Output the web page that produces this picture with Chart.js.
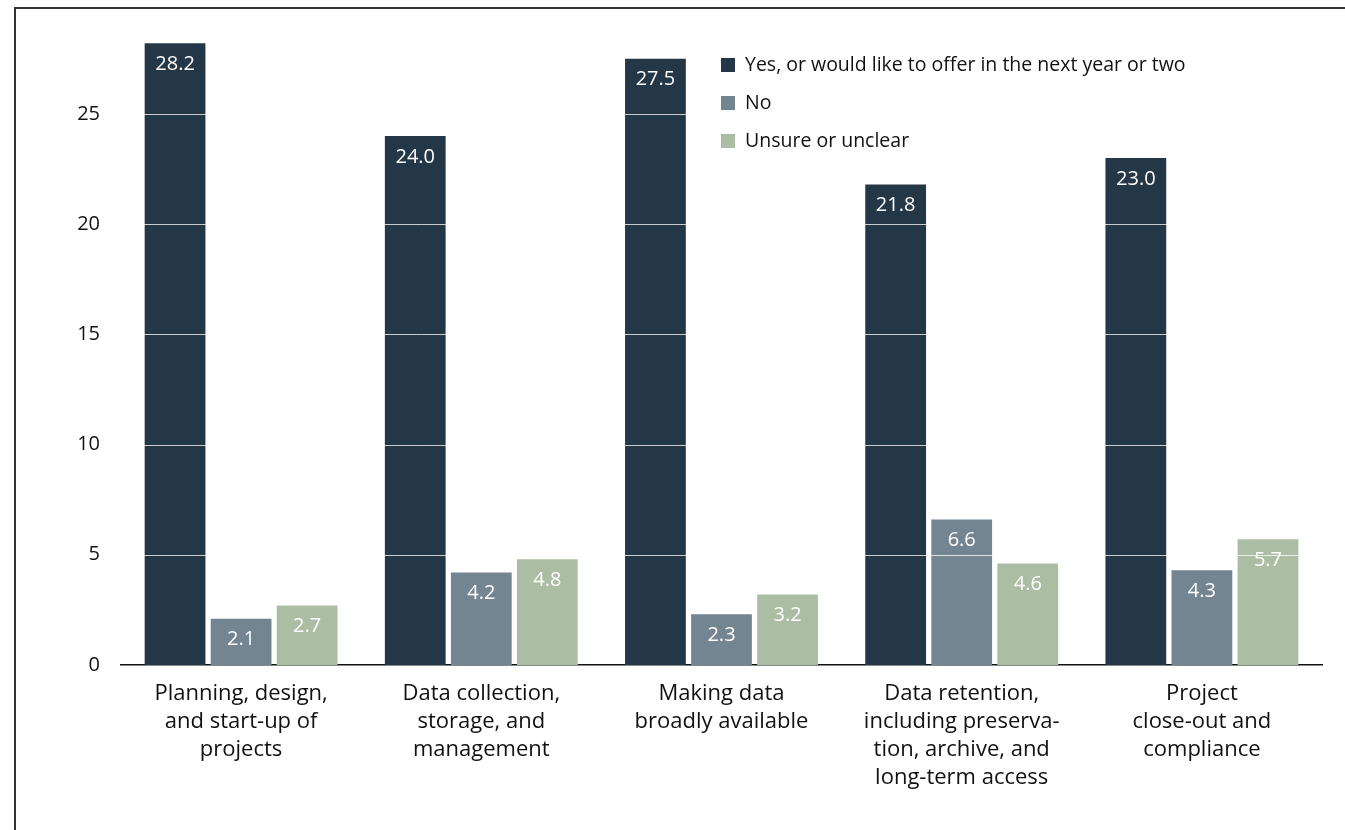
<!DOCTYPE html>
<html>
<head>
<meta charset="utf-8">
<script src="https://cdn.jsdelivr.net/npm/chart.js@4.4.0/dist/chart.umd.min.js"></script>
<style>
  html, body { margin: 0; padding: 0; background: #fff; }
  #frame { position: absolute; left: 14px; top: 7px; width: 1400px; height: 900px;
           border-top: 2px solid #333; border-left: 2px solid #333; }
  #wrap { position: absolute; left: 0; top: 0; width: 1345px; height: 830px; }
</style>
</head>
<body>
<div id="frame"></div>
<div id="wrap"><canvas id="myChart"></canvas></div>
<script>
var categories = [
    ['Planning, design,', 'and start-up of', 'projects'],
    ['Data collection,', 'storage, and', 'management'],
    ['Making data', 'broadly available'],
    ['Data retention,', 'including preserva-', 'tion, archive, and', 'long-term access'],
    ['Project', 'close-out and', 'compliance']
];
var seriesNames = ['Yes, or would like to offer in the next year or two', 'No', 'Unsure or unclear'];
var yesValues = [28.2, 24.0, 27.5, 21.8, 23.0];
var noValues = [2.1, 4.2, 2.3, 6.6, 4.3];
var unsureValues = [2.7, 4.8, 3.2, 4.6, 5.7];
var yTicks = [0, 5, 10, 15, 20, 25];
var colors = ['#243746', '#738591', '#abbea3'];

var fontFamily = '"Open Sans", Lato, sans-serif';

// white grid lines drawn on top of the bars
var gridOverBars = {
    id: 'gridOverBars',
    afterDatasetsDraw: function(chart) {
        var c = chart.ctx, area = chart.chartArea, y = chart.scales.y;
        c.save();
        c.strokeStyle = 'rgba(255,255,255,0.75)';
        c.lineWidth = 1;
        yTicks.forEach(function(v) {
            if (v === 0) return;
            var py = Math.round(y.getPixelForValue(v)) + 0.5;
            c.beginPath();
            c.moveTo(area.left, py);
            c.lineTo(area.right, py);
            c.stroke();
        });
        c.restore();
    }
};

// value labels inside the top of each bar
var barLabels = {
    id: 'barLabels',
    afterDatasetsDraw: function(chart) {
        var c = chart.ctx;
        c.save();
        c.fillStyle = '#ffffff';
        c.font = '20px ' + fontFamily;
        c.textAlign = 'center';
        c.textBaseline = 'middle';
        chart.data.datasets.forEach(function(ds, i) {
            chart.getDatasetMeta(i).data.forEach(function(bar, j) {
                c.fillText(ds.data[j].toFixed(1), bar.x, bar.y + 21);
            });
        });
        c.restore();
    }
};

// legend in the upper right of the plot
var sideLegend = {
    id: 'sideLegend',
    afterDraw: function(chart) {
        var c = chart.ctx;
        c.save();
        c.font = '19.5px ' + fontFamily;
        c.textBaseline = 'middle';
        c.textAlign = 'left';
        chart.data.datasets.forEach(function(ds, i) {
            var y = 65 + i * 38;
            c.fillStyle = ds.backgroundColor;
            c.fillRect(721, y - 7, 14, 14);
            c.fillStyle = '#111';
            c.fillText(ds.label, 745, y);
        });
        c.restore();
    }
};

var ctx = document.getElementById('myChart').getContext('2d');
var chart = new Chart(ctx, {
    type: 'bar',
    data: {
        labels: categories,
        datasets: [
            { label: seriesNames[0], data: yesValues, backgroundColor: colors[0] },
            { label: seriesNames[1], data: noValues, backgroundColor: colors[1] },
            { label: seriesNames[2], data: unsureValues, backgroundColor: colors[2] }
        ]
    },
    plugins: [gridOverBars, barLabels, sideLegend],
    options: {
        responsive: true,
        maintainAspectRatio: false,
        animation: false,
        layout: { padding: { top: 3, right: 23, left: 0, bottom: 0 } },
        datasets: { bar: { categoryPercentage: 0.825, barPercentage: 0.92 } },
        plugins: {
            legend: { display: false },
            tooltip: { enabled: false }
        },
        scales: {
            x: {
                grid: { display: false, drawTicks: false },
                border: { display: true, color: '#111', width: 1.5 },
                ticks: {
                    color: '#111',
                    padding: 15,
                    maxRotation: 0,
                    autoSkip: false,
                    font: { family: fontFamily, size: 22, lineHeight: 1.27 }
                },
                afterFit: function(s) { s.height = 165; }
            },
            y: {
                min: 0,
                max: 28.67,
                grid: { display: false, drawTicks: false },
                border: { display: false },
                afterBuildTicks: function(s) {
                    s.ticks = yTicks.map(function(v) { return { value: v }; });
                },
                ticks: {
                    color: '#111',
                    padding: 21,
                    font: { family: fontFamily, size: 20 }
                },
                afterFit: function(s) { s.width = 121; }
            }
        }
    }
});
</script>
</body>
</html>
